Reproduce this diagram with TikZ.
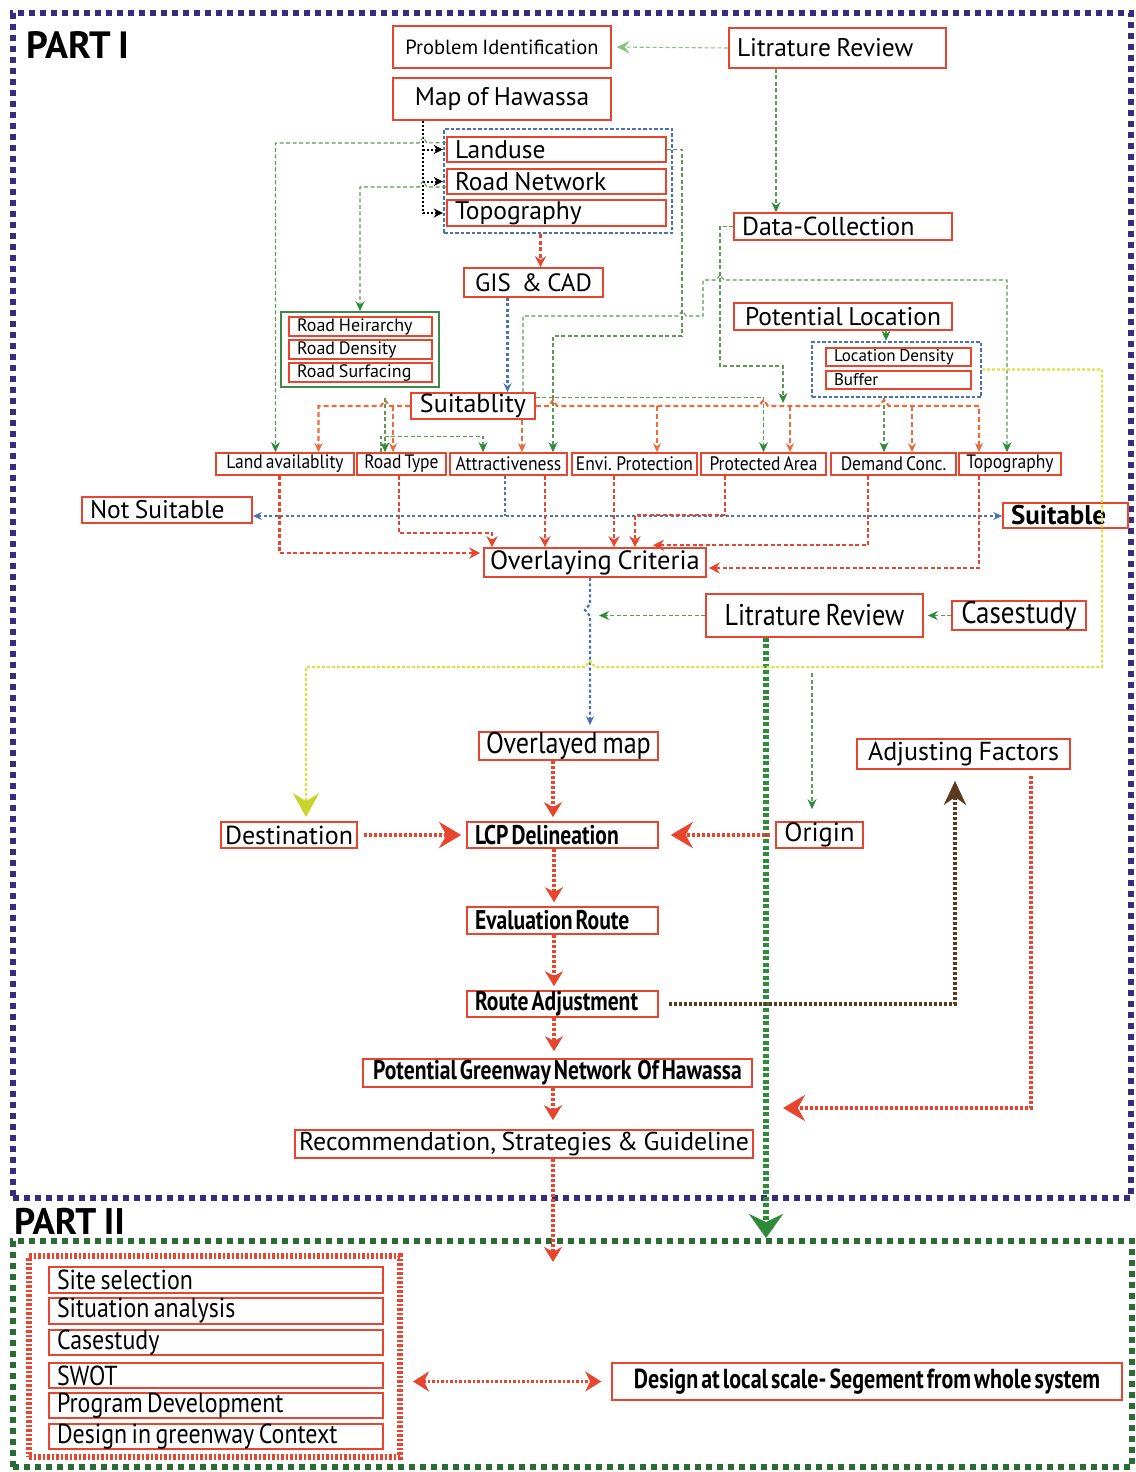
\documentclass[tikz,border=0pt]{standalone}
\usepackage{fontspec}
\setmainfont[WordSpace=0.8]{PT Sans}
\newfontfamily\cond[FakeStretch=0.8,WordSpace=0.55]{PT Sans}
\newfontfamily\condr[FakeStretch=0.87,WordSpace=0.7]{PT Sans}
\newfontfamily\semi[FakeStretch=0.9,WordSpace=0.65]{PT Sans}
\usetikzlibrary{arrows.meta}
\newcommand\fsz[1]{\fontsize{#1}{#1}\selectfont}
\definecolor{boxred}{HTML}{E8442E}
\definecolor{purp}{HTML}{3A2C7C}
\definecolor{gframe}{HTML}{2B6B34}
\definecolor{gthin}{HTML}{5E9A55}
\definecolor{garrow}{HTML}{2E8B3A}
\definecolor{glight}{HTML}{88C47A}
\definecolor{orng}{HTML}{EE6B3B}
\definecolor{blu}{HTML}{4A70B8}
\definecolor{brwn}{HTML}{5B3A1F}
\definecolor{ylw}{HTML}{D9E23F}
\definecolor{ylwtip}{HTML}{C7D52A}
\newcommand\mkcbox[7][]{\node[box,minimum width={#5-#3},minimum height={#6-#4},#1] (#2) at ({(#3+#5)/2},{(#4+#6)/2}) {#7};}
\newcommand\mklbox[7][]{\pgfmathsetmacro\mytw{#5-#3-16}\node[box,align=flush left,inner xsep=8pt,text width=\mytw pt,minimum height={#6-#4},#1] (#2) at ({(#3+#5)/2},{(#4+#6)/2}) {#7};}
\newcommand\mkgrp[6]{\node[#1,inner sep=0pt,minimum width={#5-#3},minimum height={#6-#4}] (#2) at ({(#3+#5)/2},{(#4+#6)/2}) {};}
\tikzset{
  box/.style={draw=boxred, line width=1.6pt, fill=white, inner sep=0pt, text=black, font=\fsz{25.5}},
  thinbox/.style={line width=1.1pt},
  gdash/.style={draw=gthin, line width=1.1pt, dash pattern=on 4pt off 2.5pt},
  odash/.style={draw=orng, line width=2.2pt, dash pattern=on 5pt off 3pt},
  rdash/.style={draw=boxred, line width=2.4pt, dash pattern=on 4pt off 2.5pt},
  bdot/.style={draw=blu, line width=2.2pt, dash pattern=on 3pt off 2.5pt},
  kdot/.style={draw=black, line width=2pt, dash pattern=on 2pt off 2pt},
  rthick/.style={draw=boxred, line width=4.5pt, dash pattern=on 3pt off 2pt},
  rmid/.style={draw=boxred, line width=3.2pt, dash pattern=on 3pt off 2pt},
  ydot/.style={draw=ylw, line width=2.2pt, dash pattern=on 3pt off 2pt},
  brdot/.style={draw=brwn, line width=4pt, dash pattern=on 3pt off 2pt},
  gthick/.style={draw=garrow, line width=6pt, dash pattern=on 4pt off 2.5pt},
  frameA/.style={draw=purp, line width=6pt, dash pattern=on 6pt off 5pt},
  frameB/.style={draw=gframe, line width=6pt, dash pattern=on 6pt off 5pt},
  bluegrp/.style={draw=blu, line width=2.4pt, dash pattern=on 3.5pt off 2pt},
  greengrp/.style={draw=garrow!80!gray, line width=1.6pt},
  redgrp/.style={draw=boxred, line width=6pt, dash pattern=on 2.5pt off 2pt},
  Gt/.tip={Stealth[length=10pt,width=9pt,color=garrow]},
  Ot/.tip={Stealth[length=9pt,width=8pt,color=orng]},
  Rs/.tip={Stealth[length=11pt,width=11pt,color=boxred]},
  Rm/.tip={Stealth[length=15pt,width=18pt,color=boxred]},
  Rl/.tip={Stealth[length=22pt,width=26pt,color=boxred]},
  Bt/.tip={Stealth[length=9pt,width=8pt,color=blu]},
  Kt/.tip={Stealth[length=9pt,width=9pt,color=black]},
  Yt/.tip={Stealth[length=24pt,width=26pt,inset=8pt,color=ylwtip]},
  Brt/.tip={Stealth[length=24pt,width=22pt,color=brwn]},
  Gbig/.tip={Stealth[length=24pt,width=34pt,inset=8pt,color=garrow]},
}
\begin{document}
\begin{tikzpicture}[x=1pt,y=-1pt]
\useasboundingbox (0,0) rectangle (1135,1472);
% frames
\mkgrp{frameA}{part1}{13}{13}{1131}{1198}
\mkgrp{frameB}{part2}{13}{1241}{1132}{1467}
\node[anchor=west,inner sep=0pt,font=\bfseries\fsz{38}] (p1lbl) at (26,45) {PART I};
\node[anchor=west,inner sep=0pt,font=\bfseries\fsz{37}] (p2lbl) at (14,1221) {PART II};
% groups
\mkgrp{bluegrp}{layers}{444}{129}{672}{233}
\mkgrp{bluegrp}{locgrp}{812}{342}{981}{397}
\mkgrp{greengrp}{rgrp}{281}{312}{439}{387}
\mkgrp{redgrp}{p2grp}{29}{1256}{400}{1457}
% boxes
\mkcbox[font=\fsz{20.5}]{prob}{393}{26}{611}{68}{Problem Identification}
\mklbox{litA}{729}{28}{946}{68}{Litrature Review}
\mkcbox{map}{393}{78}{611}{120}{Map of Hawassa}
\mklbox{land}{447}{137}{666}{162}{Landuse}
\mklbox{road}{447}{169}{666}{194}{Road Network}
\mklbox{topoA}{447}{200}{666}{226}{Topography}
\mkcbox[font=\fsz{25}]{gis}{464}{268}{603}{297}{GIS~~\& CAD}
\mklbox[font=\fsz{26}]{dc}{734}{213}{952}{240}{Data-Collection}
\mkcbox{pl}{734}{303}{952}{330}{Potential Location}
\mklbox[thinbox,font=\fsz{17}]{locd}{826}{348}{971}{366}{Location Density}
\mklbox[thinbox,font=\fsz{17}]{buf}{826}{371}{971}{389}{Buffer}
\mklbox[thinbox,font=\fsz{18}]{rh}{289}{317}{432}{336}{Road Heirarchy}
\mklbox[thinbox,font=\fsz{18}]{rd}{289}{340}{432}{359}{Road Density}
\mklbox[thinbox,font=\fsz{18}]{rs}{289}{363}{432}{382}{Road Surfacing}
\mkcbox[font=\fsz{26}]{suit}{411}{393}{535}{419}{Suitablity}
\mkcbox[font=\semi\fsz{19.5}]{landav}{216}{453}{354}{475}{Land availablity}
\mkcbox[font=\semi\fsz{19.5}]{rtype}{357}{453}{446}{475}{Road Type}
\mkcbox[font=\semi\fsz{19.5}]{attr}{450}{453}{567}{475}{Attractiveness}
\mkcbox[font=\semi\fsz{19.5}]{envi}{572}{453}{697}{475}{Envi. Protection}
\mkcbox[font=\semi\fsz{19.5}]{prot}{701}{453}{826}{475}{Protected Area}
\mkcbox[font=\semi\fsz{19.5}]{dem}{831}{453}{956}{475}{Demand Conc.}
\mkcbox[font=\semi\fsz{19.5}]{topoB}{959}{453}{1061}{475}{Topography}
\mklbox{notsuit}{82}{497}{252}{523}{Not Suitable}
\mklbox[font=\fsz{27}]{suitable}{1003}{503}{1128}{528}{\textbf{Suitable}}
\mkcbox[font=\fsz{26.5}]{overlay}{484}{548}{706}{577}{Overlaying Criteria}
\mkcbox[font=\condr\fsz{30}]{litB}{706}{594}{923}{637}{Litrature Review}
\mkcbox[font=\condr\fsz{31}]{caseB}{952}{602}{1086}{629}{Casestudy}
\mkcbox[font=\condr\fsz{30}]{omap}{479}{732}{658}{760}{Overlayed map}
\mkcbox[font=\fsz{26}]{adj}{857}{739}{1070}{769}{Adjusting Factors}
\mkcbox[font=\fsz{26}]{dest}{221}{822}{357}{848}{Destination}
\mklbox[font=\cond\bfseries\fsz{27}]{lcp}{467}{822}{658}{848}{LCP Delineation}
\mkcbox[font=\fsz{26.5}]{orig}{776}{822}{863}{848}{Origin}
\mklbox[font=\cond\bfseries\fsz{27}]{eval}{467}{907}{658}{934}{Evaluation Route}
\mklbox[font=\cond\bfseries\fsz{27}]{radj}{467}{991}{658}{1017}{Route Adjustment}
\mkcbox[font=\cond\bfseries\fsz{27}]{pgn}{363}{1059}{752}{1087}{Potential Greenway Network~~Of Hawassa}
\mkcbox[font=\fsz{25.8}]{rec}{295}{1130}{753}{1158}{Recommendation, Strategies \& Guideline}
\mklbox[font=\condr\fsz{27.5}]{s1}{49}{1267}{383}{1293}{Site selection}
\mklbox[font=\condr\fsz{27.5}]{s2}{49}{1298}{383}{1324}{Situation analysis}
\mklbox[font=\condr\fsz{27.5}]{s3}{49}{1330}{383}{1355}{Casestudy}
\mklbox[font=\condr\fsz{27.5}]{s4}{49}{1363}{383}{1388}{SWOT}
\mklbox[font=\condr\fsz{27.5}]{s5}{49}{1393}{383}{1418}{Program Development}
\mklbox[font=\condr\fsz{27.5}]{s6}{49}{1424}{383}{1449}{Design in greenway Context}
\mkcbox[font=\cond\bfseries\fsz{27.5}]{design}{612}{1363}{1122}{1400}{Design at local scale- Segement from whole system}
% ---------- connectors ----------
% literature -> problem
\draw[gdash,draw=glight,-{Stealth[length=13pt,width=13pt,inset=5pt,color=glight]},shorten >=5pt] (litA.west) -- (prob.east);
% literature -> data collection
\coordinate (t2) at ([xshift=-61.5pt]litA.south);
\draw[gdash,-Gt] (t2) -- (t2 |- dc.north);
% map -> layers
\coordinate (m0) at ([xshift=-79pt]map.south);
\draw[kdot] (m0) -- (m0 |- topoA.west);
\draw[kdot,-Kt] (m0 |- land.west) -- (layers.west |- land.west);
\draw[kdot,-Kt] (m0 |- road.west) -- (layers.west |- road.west);
\draw[kdot,-Kt] (m0 |- topoA.west) -- (layers.west |- topoA.west);
% landuse -> land availability
\coordinate (l4) at ([yshift=7pt]land.west);
\coordinate (l4b) at ([xshift=-9.5pt]landav.north);
\draw[gdash,-Gt] (l4) -- (427,143) -- (423,137) -- (419,143) -| (l4b);
% road network -> road group
\coordinate (r5) at ([yshift=-5.5pt]road.west);
\draw[gdash,-Gt] (r5) -- (427,187) -- (423,181) -- (419,187) -| (rgrp.north);
% landuse -> attractiveness
\coordinate (a6) at ([xshift=44.5pt]attr.north);
\draw[gdash,-Gt] (land.east) -- (682,149.5) -- (682,336) -| (a6);
% suitability -> topography
\coordinate (s7) at ([xshift=50pt]suit.north);
\coordinate (t7) at ([xshift=-3pt]topoB.north);
\draw[gdash,-Gt] (s7) -- (523,316) -- (678,316) -- (682,311) -- (686,316) -- (703,316) -- (703,280) -- (716,280) -- (720,275) -- (724,280) -| (t7);
% suitability -> protected area
\coordinate (s8) at ([yshift=8.5pt]suit.east);
\draw[gdash,-Gt] (s8) -| (prot.north);
% data collection -> junction
\coordinate (dcj) at (783,403);
\draw[gdash,-Gt] (dc.west) -- (720,226.5) -- (720,366) -| (dcj);
% potential location -> location group
\coordinate (p10) at ([xshift=43pt]pl.south);
\draw[gdash,-Gt] (p10) -- (p10 |- locgrp.north);
% buffer -> demand
\coordinate (b11) at ([xshift=-12.5pt]locgrp.south);
\draw[gdash,-Gt] (b11) -- (b11 |- dem.north);
% gis -> suitability
\coordinate (g13) at ([xshift=-26pt]gis.south);
\draw[bdot,-Bt] (g13) -- (g13 |- suit.north);
% layers -> gis
\coordinate (g14) at ([xshift=7pt]gis.north);
\draw[rdash,-Rs] (g14 |- layers.south) -- (g14);
% suitability -> criteria (orange)
\coordinate (o1) at ([xshift=33.5pt]landav.north);
\draw[odash,-Ot] (suit.west) -- (389,406) -- (385,400) -- (381,406) -| (o1);
\coordinate (o2) at ([xshift=-8.5pt]rtype.north);
\draw[odash,-Ot] (o2 |- suit.west) -- (o2);
\coordinate (o7) at ([xshift=-31pt]topoB.north);
\draw[odash,-Ot] (suit.east) -- (549,406) -- (553,400) -- (557,406) -- (759,406) -- (763.5,400) -- (768,406) -- (879,406) -- (884,400) -- (889,406) -| (o7);
\coordinate (o3) at ([xshift=13.5pt]attr.north);
\draw[odash,-Ot] (o3 |- suit.south) -- (o3);
\coordinate (o4) at ([xshift=22.5pt]envi.north);
\draw[odash,-Ot] (o4 |- suit.east) -- (o4);
\coordinate (o5) at ([xshift=26.5pt]prot.north);
\draw[odash,-Ot] (o5 |- suit.east) -- (o5);
\coordinate (o6) at ([xshift=18.5pt]dem.north);
\draw[odash,-Ot] (o6 |- suit.east) -- (o6);
% road group -> road type
\coordinate (q16) at ([xshift=25pt]rgrp.south);
\draw[gdash,-Gt] ([yshift=-10pt]q16) -- (q16 |- rtype.north);
% road type -> attractiveness
\coordinate (q17a) at ([xshift=-20.5pt]rtype.north);
\coordinate (q17b) at ([xshift=-25.5pt]attr.north);
\draw[gdash,-Gt] (q17a) -- ++(0,-16) -| (q17b);
% blue not suitable <-> suitable
\coordinate (n19) at ([yshift=-6pt]notsuit.east);
\draw[bdot,Bt-Bt] (n19) -- (n19 -| suitable.west);
\coordinate (u3b) at ([xshift=-3.5pt]attr.south);
\draw[bdot] (u3b) -- (u3b |- n19);
% criteria -> overlaying
\coordinate (u1) at ([xshift=-5.5pt]landav.south);
\coordinate (v1) at ([yshift=9.5pt]overlay.west);
\draw[rdash,-Rs,shorten >=3pt] (u1) |- (v1);
\coordinate (u2) at ([xshift=-2.5pt]rtype.south);
\coordinate (v2) at ([xshift=-103pt]overlay.north);
\draw[rdash,-Rs] (u2) -- (399,533) -| (v2);
\coordinate (u3) at ([xshift=36.5pt]attr.south);
\draw[rdash,-Rs] (u3) -- (u3 |- overlay.north);
\coordinate (u4) at ([xshift=-20.5pt]envi.south);
\draw[rdash,-Rs] (u4) -- (u4 |- overlay.north);
\coordinate (u5) at ([xshift=-38.5pt]prot.south);
\coordinate (v5) at ([xshift=40pt]overlay.north);
\draw[rdash,-Rs] (u5) -- (725,515) -| (v5);
\coordinate (u6) at ([xshift=-25.5pt]dem.south);
\coordinate (v6) at ([xshift=58pt,yshift=2pt]overlay.north);
\draw[rdash,-Rs] (u6) |- (v6);
\coordinate (u7) at ([xshift=-31pt]topoB.south);
\coordinate (v7) at ([yshift=-5.5pt]overlay.east);
\draw[rdash,-Rs,shorten >=2pt] (u7) |- (v7);
% overlaying -> overlayed map
\coordinate (w20) at ([xshift=-5pt]overlay.south);
\draw[bdot,-Bt,shorten >=6pt] (w20) -- (590,604) -- (585,610) -- (590,616) -- (w20 |- omap.north);
% literature -> overlay line
\coordinate (j21) at ([xshift=9pt]w20);
\draw[gdash,-Gt] (litB.west) -- (j21 |- litB.west);
\draw[gdash,-Gt,shorten >=4pt] (caseB.west) -- (litB.east);
% literature -> part II
\coordinate (k23) at ([xshift=-48.5pt]litB.south);
\draw[gthick,-Gbig] (k23) -- (k23 |- part2.north);
% yellow -> destination
\coordinate (y12) at ([xshift=17pt]dest.north);
\draw[ydot,-Yt,shorten >=4pt] (locgrp.east) -- (1102,369.5) -- (1102,667) -- (595,667) -- (590,661) -- (585,667) -| (y12);
% thin green -> origin
\coordinate (og) at (812,673);
\draw[gdash,-Gt,shorten >=12pt] (og) -- (og |- orig.north);
% main chain
\coordinate (z25) at ([xshift=-15.5pt]omap.south);
\draw[rthick,-Rm,shorten >=4pt] (z25) -- (z25 |- lcp.north);
\draw[rthick,-Rl,shorten <=6pt,shorten >=5pt] (dest.east) -- (lcp.west);
\draw[rthick,-Rl,shorten <=5pt,shorten >=12pt] (orig.west) -- (lcp.east);
\coordinate (z28) at ([xshift=-8.5pt]lcp.south);
\draw[rthick,-Rm,shorten >=4pt] (z28) -- (z28 |- eval.north);
\coordinate (z29) at ([xshift=-8.5pt]eval.south);
\draw[rthick,-Rm,shorten >=4pt] (z29) -- (z29 |- radj.north);
\coordinate (z30) at ([xshift=-8.5pt]radj.south);
\draw[rthick,-Rm,shorten >=7pt] (z30) -- (z30 |- pgn.north);
\coordinate (z31) at ([xshift=-4.5pt]pgn.south);
\draw[rthick,-Rm,shorten >=9pt] (z31) -- (z31 |- rec.north);
\coordinate (z32) at ([xshift=29pt]rec.south);
\coordinate (p2in) at (553,1262);
\draw[rmid,-Rm] (z32) -- (p2in);
% route adjustment -> adjusting factors
\coordinate (br1) at ([xshift=-8.5pt]adj.south);
\draw[brdot,-Brt,shorten <=10pt,shorten >=11pt] (radj.east) -| (br1);
% adjusting factors -> back
\coordinate (ad1) at ([xshift=67.5pt]adj.south);
\coordinate (adjend) at (783,1108);
\draw[rmid,-Rl,shorten <=6pt] (ad1) |- (adjend);
% part II double arrow
\coordinate (pp) at (p2grp.east |- design.west);
\draw[rdash,line width=2.5pt,dash pattern=on 2.5pt off 2pt,{Stealth[length=16pt,width=20pt,inset=5pt,color=boxred]}-{Stealth[length=16pt,width=20pt,inset=5pt,color=boxred]},shorten <=10pt,shorten >=10pt] (pp) -- (design.west);
\end{tikzpicture}
\end{document}
